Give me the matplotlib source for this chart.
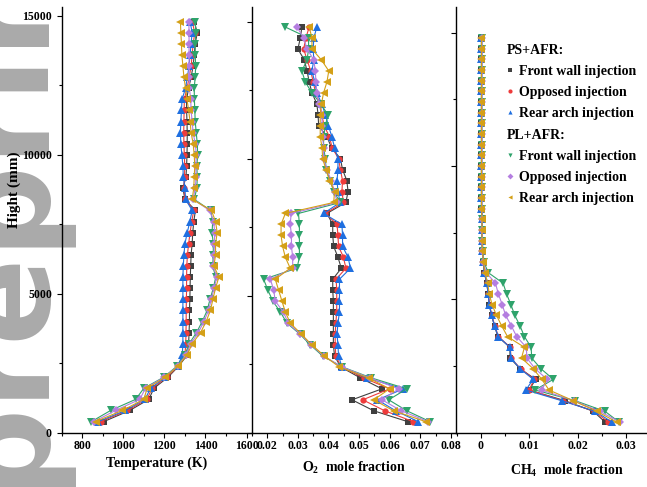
import matplotlib.pyplot as plt
from matplotlib.lines import Line2D
from matplotlib.ticker import MultipleLocator

plt.rcParams['font.family'] = 'Liberation Serif'
plt.rcParams['font.weight'] = 'bold'
plt.rcParams['mathtext.fontset'] = 'custom'
plt.rcParams['mathtext.rm'] = 'Liberation Serif:bold'
plt.rcParams['mathtext.bf'] = 'Liberation Serif:bold'
plt.rcParams['mathtext.it'] = 'Liberation Serif:bold'

# hauteur des points (mm), du bas vers le haut
heights = [400, 800, 1200, 1600, 2000, 2400, 2800, 3200, 3600, 4000, 4400, 4800,
           5200, 5600, 6000, 6400, 6800, 7200, 7600, 8000, 8400, 8800, 9200, 9600,
           10000, 10400, 10800, 11200, 11600, 12000, 12400, 12800, 13200, 13600,
           14000, 14400, 14800]

labels = ['Front wall injection', 'Opposed injection', 'Rear arch injection',
          'Front wall injection', 'Opposed injection', 'Rear arch injection']
colors = ['#404040', '#ee3b3b', '#1f6fe0', '#2ea36b', '#b57ee0', '#d4a017']
markers = ['s', 'o', '^', 'v', 'D', '<']
msizes = [4.3, 4.5, 5.5, 5.5, 4.2, 5.5]

# temperature (K)
ps_front_T = [905, 1031, 1124, 1149, 1218, 1270, 1312, 1318, 1320, 1322, 1322, 1324, 1325, 1326, 1328, 1330, 1335, 1338, 1343, 1351, 1300, 1290, 1305, 1308, 1310, 1311, 1311, 1310, 1308, 1308, 1318, 1330, 1340, 1345, 1350, 1360, 1345]
ps_opp_T = [890, 1020, 1115, 1140, 1212, 1268, 1300, 1304, 1305, 1306, 1306, 1307, 1308, 1308, 1309, 1312, 1318, 1325, 1333, 1343, 1301, 1295, 1298, 1299, 1297, 1295, 1294, 1295, 1296, 1297, 1310, 1321, 1330, 1335, 1340, 1348, 1335]
ps_rear_T = [878, 1010, 1105, 1133, 1205, 1265, 1287, 1290, 1290, 1290, 1290, 1290, 1290, 1290, 1292, 1295, 1300, 1311, 1324, 1335, 1303, 1300, 1292, 1290, 1285, 1280, 1278, 1280, 1283, 1286, 1303, 1312, 1320, 1325, 1330, 1335, 1325]
pl_front_T = [845, 938, 1060, 1100, 1197, 1262, 1300, 1320, 1356, 1384, 1408, 1422, 1438, 1450, 1435, 1438, 1438, 1432, 1435, 1425, 1345, 1358, 1360, 1358, 1362, 1360, 1355, 1350, 1348, 1346, 1345, 1350, 1352, 1350, 1350, 1352, 1351]
pl_opp_T = [857, 962, 1080, 1108, 1200, 1265, 1305, 1328, 1365, 1392, 1415, 1428, 1442, 1455, 1438, 1442, 1443, 1445, 1440, 1420, 1340, 1350, 1355, 1352, 1356, 1350, 1340, 1335, 1330, 1328, 1322, 1320, 1320, 1320, 1320, 1320, 1319]
pl_rear_T = [865, 995, 1100, 1116, 1205, 1266, 1311, 1335, 1376, 1403, 1424, 1436, 1449, 1465, 1441, 1449, 1449, 1457, 1449, 1429, 1335, 1343, 1345, 1348, 1345, 1340, 1330, 1325, 1318, 1310, 1303, 1295, 1290, 1285, 1283, 1280, 1278]

# O2 mole fraction
ps_front_O2 = [0.0660, 0.0548, 0.0477, 0.0575, 0.0504, 0.0440, 0.0420, 0.0416, 0.0416, 0.0416, 0.0416, 0.0416, 0.0414, 0.0414, 0.0442, 0.0431, 0.0417, 0.0414, 0.0414, 0.0395, 0.0457, 0.0464, 0.0460, 0.0446, 0.0439, 0.0410, 0.0395, 0.0368, 0.0366, 0.0362, 0.0346, 0.0337, 0.0330, 0.0321, 0.0300, 0.0308, 0.0313]
ps_opp_O2 = [0.0678, 0.0584, 0.0512, 0.0600, 0.0515, 0.0442, 0.0424, 0.0422, 0.0422, 0.0424, 0.0427, 0.0427, 0.0427, 0.0425, 0.0457, 0.0449, 0.0433, 0.0431, 0.0428, 0.0390, 0.0449, 0.0444, 0.0446, 0.0439, 0.0433, 0.0412, 0.0403, 0.0386, 0.0378, 0.0372, 0.0358, 0.0350, 0.0342, 0.0330, 0.0319, 0.0326, 0.0337]
ps_rear_O2 = [0.0694, 0.0620, 0.0560, 0.0645, 0.0525, 0.0444, 0.0433, 0.0431, 0.0428, 0.0431, 0.0436, 0.0436, 0.0436, 0.0436, 0.0472, 0.0464, 0.0446, 0.0446, 0.0444, 0.0384, 0.0438, 0.0431, 0.0428, 0.0431, 0.0431, 0.0420, 0.0411, 0.0400, 0.0390, 0.0378, 0.0362, 0.0355, 0.0346, 0.0352, 0.0350, 0.0352, 0.0362]
pl_front_O2 = [0.0733, 0.0656, 0.0597, 0.0656, 0.0540, 0.0445, 0.0381, 0.0341, 0.0306, 0.0264, 0.0243, 0.0218, 0.0202, 0.0188, 0.0297, 0.0305, 0.0305, 0.0305, 0.0305, 0.0302, 0.0439, 0.0417, 0.0406, 0.0392, 0.0390, 0.0384, 0.0384, 0.0390, 0.0398, 0.0375, 0.0346, 0.0324, 0.0313, 0.0330, 0.0335, 0.0335, 0.0259]
pl_opp_O2 = [0.0727, 0.0638, 0.0575, 0.0630, 0.0535, 0.0443, 0.0384, 0.0344, 0.0308, 0.0268, 0.0253, 0.0226, 0.0221, 0.0210, 0.0283, 0.0283, 0.0279, 0.0279, 0.0275, 0.0278, 0.0428, 0.0420, 0.0409, 0.0395, 0.0384, 0.0384, 0.0381, 0.0379, 0.0379, 0.0368, 0.0362, 0.0359, 0.0357, 0.0352, 0.0330, 0.0319, 0.0297]
pl_rear_O2 = [0.0719, 0.0613, 0.0548, 0.0600, 0.0531, 0.0435, 0.0387, 0.0346, 0.0311, 0.0275, 0.0259, 0.0248, 0.0237, 0.0226, 0.0275, 0.0259, 0.0250, 0.0245, 0.0245, 0.0259, 0.0417, 0.0420, 0.0403, 0.0392, 0.0381, 0.0379, 0.0373, 0.0373, 0.0373, 0.0377, 0.0384, 0.0395, 0.0401, 0.0377, 0.0346, 0.0346, 0.0337]

# CH4 mole fraction
ps_front_CH4 = [0.0257, 0.0233, 0.0174, 0.0100, 0.0113, 0.0081, 0.0060, 0.0060, 0.0035, 0.0028, 0.0022, 0.0017, 0.0015, 0.0012, 0.0007, 0.0005, 0.0003, 0.0002, 0.0002, 0.0002, 0.0001, 0.0001, 0.0001, 0.0001, 0.0001, 0.0001, 0.0001, 0.0001, 0.0001, 0.0001, 0.0001, 0.0001, 0.0001, 0.0001, 0.0001, 0.0001, 0.0001]
ps_opp_CH4 = [0.0264, 0.0235, 0.0170, 0.0100, 0.0110, 0.0082, 0.0062, 0.0061, 0.0036, 0.0029, 0.0022, 0.0018, 0.0015, 0.0012, 0.0007, 0.0005, 0.0003, 0.0002, 0.0002, 0.0002, 0.0001, 0.0001, 0.0001, 0.0001, 0.0001, 0.0001, 0.0001, 0.0001, 0.0001, 0.0001, 0.0001, 0.0001, 0.0001, 0.0001, 0.0001, 0.0001, 0.0001]
ps_rear_CH4 = [0.0271, 0.0237, 0.0167, 0.0093, 0.0108, 0.0081, 0.0062, 0.0060, 0.0036, 0.0028, 0.0022, 0.0017, 0.0015, 0.0012, 0.0007, 0.0005, 0.0003, 0.0002, 0.0002, 0.0002, 0.0001, 0.0001, 0.0001, 0.0001, 0.0001, 0.0001, 0.0001, 0.0001, 0.0001, 0.0001, 0.0001, 0.0001, 0.0001, 0.0001, 0.0001, 0.0001, 0.0001]
pl_front_CH4 = [0.0286, 0.0257, 0.0195, 0.0112, 0.0150, 0.0124, 0.0105, 0.0104, 0.0090, 0.0081, 0.0070, 0.0062, 0.0053, 0.0046, 0.0015, 0.0006, 0.0004, 0.0003, 0.0003, 0.0003, 0.0002, 0.0002, 0.0002, 0.0002, 0.0002, 0.0002, 0.0002, 0.0002, 0.0002, 0.0002, 0.0002, 0.0002, 0.0002, 0.0002, 0.0002, 0.0002, 0.0002]
pl_opp_CH4 = [0.0288, 0.0246, 0.0192, 0.0126, 0.0137, 0.0112, 0.0095, 0.0094, 0.0074, 0.0063, 0.0051, 0.0044, 0.0036, 0.0030, 0.0011, 0.0005, 0.0003, 0.0003, 0.0002, 0.0002, 0.0002, 0.0002, 0.0002, 0.0002, 0.0002, 0.0002, 0.0002, 0.0002, 0.0002, 0.0002, 0.0002, 0.0002, 0.0002, 0.0002, 0.0002, 0.0002, 0.0002]
pl_rear_CH4 = [0.0281, 0.0240, 0.0191, 0.0141, 0.0126, 0.0108, 0.0084, 0.0090, 0.0055, 0.0043, 0.0032, 0.0023, 0.0017, 0.0014, 0.0008, 0.0005, 0.0003, 0.0002, 0.0002, 0.0002, 0.0001, 0.0001, 0.0001, 0.0001, 0.0001, 0.0001, 0.0001, 0.0001, 0.0001, 0.0001, 0.0001, 0.0001, 0.0001, 0.0001, 0.0001, 0.0001, 0.0001]

T_series = [ps_front_T, ps_opp_T, ps_rear_T, pl_front_T, pl_opp_T, pl_rear_T]
O2_series = [ps_front_O2, ps_opp_O2, ps_rear_O2, pl_front_O2, pl_opp_O2, pl_rear_O2]
CH4_series = [ps_front_CH4, ps_opp_CH4, ps_rear_CH4, pl_front_CH4, pl_opp_CH4, pl_rear_CH4]

T_ticks = [800, 1000, 1200, 1400, 1600]
O2_ticks = [0.02, 0.03, 0.04, 0.05, 0.06, 0.07, 0.08]
O2_ticklabels = ['0.02', '0.03', '0.04', '0.05', '0.06', '0.07', '0.08']
CH4_ticks = [0, 0.01, 0.02, 0.03]
CH4_ticklabels = ['0', '0.01', '0.02', '0.03']
h_ticks = [0, 5000, 10000, 15000]

W, H = 647, 487
fig = plt.figure(figsize=(W / 100, H / 100), dpi=100)

# filigrane gris a gauche (coupe par le bord)
fig.text(39 / W, 1 - 490 / H, 'preprint', rotation=90, rotation_mode='anchor',
         ha='left', va='baseline', fontsize=93, color='#aaaaaa',
         family='DejaVu Sans', weight='bold', zorder=-5)

ax1 = fig.add_axes([61.7 / W, 54.3 / H, 190 / W, 426.2 / H])
ax2 = fig.add_axes([251.7 / W, 54.3 / H, 204.3 / W, 426.2 / H])
ax3 = fig.add_axes([456 / W, 54.3 / H, 191 / W, 426.2 / H])

for ax, data in [(ax1, T_series), (ax2, O2_series), (ax3, CH4_series)]:
    ax.patch.set_facecolor('none')
    for vals, c, m, s in zip(data, colors, markers, msizes):
        ax.plot(vals, heights, color=c, marker=m, ms=s, mew=0, lw=0.8)
    ax.spines['top'].set_visible(False)
    ax.spines['right'].set_visible(False)
    for sp in ['left', 'bottom']:
        ax.spines[sp].set_linewidth(1.0)
    ax.set_yticks(h_ticks)
    ax.yaxis.set_minor_locator(MultipleLocator(2500))
    ax.tick_params(which='major', direction='out', length=3.5, width=0.8, labelsize=8.5)
    ax.tick_params(which='minor', direction='out', length=2, width=0.8)
    ax.tick_params(axis='x', pad=2)

ax1.set_xlim(700, 1625)
ax1.set_xticks(T_ticks)
ax1.xaxis.set_minor_locator(MultipleLocator(100))
ax1.set_ylim(0, 15340)
ax1.set_xlabel('Temperature (K)', fontsize=10, fontweight='bold')
ax1.xaxis.set_label_coords(0.5, -0.057)
ax1.set_ylabel('Hight (mm)', fontsize=11, fontweight='bold')
ax1.yaxis.set_label_coords(-0.214, 0.569)

ax2.set_xlim(0.0149, 0.0817)
ax2.set_xticks(O2_ticks, O2_ticklabels)
ax2.xaxis.set_minor_locator(MultipleLocator(0.005))
ax2.set_ylim(0, 15550)
ax2.tick_params(axis='y', labelleft=False)
ax2.set_xlabel(r'O$_2$  mole fraction', fontsize=10, fontweight='bold')
ax2.xaxis.set_label_coords(0.5, -0.064)

ax3.set_xlim(-0.00518, 0.0344)
ax3.set_xticks(CH4_ticks, CH4_ticklabels)
ax3.xaxis.set_minor_locator(MultipleLocator(0.005))
ax3.set_ylim(0, 15975)
ax3.tick_params(axis='y', labelleft=False)
ax3.set_xlabel(r'CH$_4$  mole fraction', fontsize=10, fontweight='bold')
ax3.xaxis.set_label_coords(0.58, -0.071)

# legende en deux blocs
handles = [Line2D([], [], color=c, marker=m, ls='none', ms=3, mew=0)
           for c, m in zip(colors, markers)]
leg_kw = dict(loc='upper left', frameon=False, fontsize=10, alignment='left',
              title_fontproperties={'weight': 'bold', 'size': 10},
              handlelength=0.5, handletextpad=0.35, labelspacing=0.58,
              borderpad=0, borderaxespad=0)
leg1 = ax3.legend(handles[:3], labels[:3], title='PS+AFR:',
                  bbox_to_anchor=(0.267, 0.913), **leg_kw)
ax3.add_artist(leg1)
ax3.legend(handles[3:], labels[3:], title='PL+AFR:',
           bbox_to_anchor=(0.267, 0.913 - 85 / 426.2), **leg_kw)

fig.savefig('out.png', dpi=100)
